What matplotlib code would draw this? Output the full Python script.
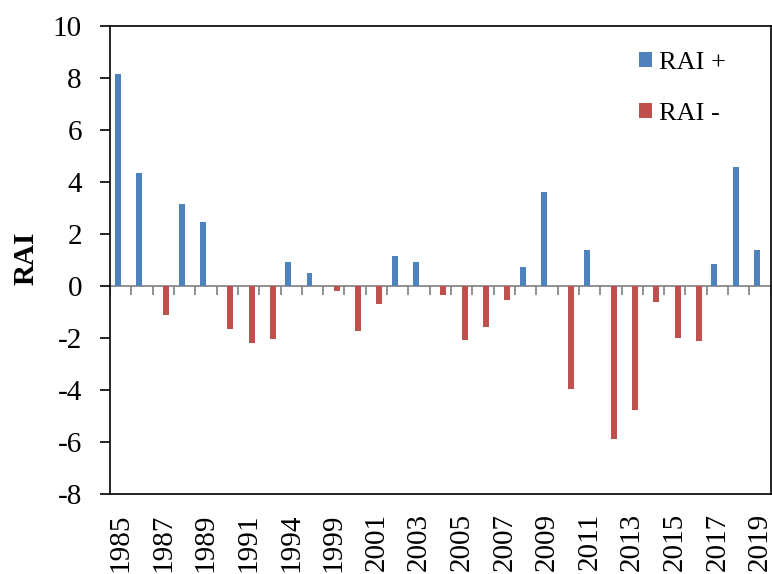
import matplotlib.pyplot as plt
import numpy as np

plt.rcParams['font.family'] = ['Liberation Serif', 'DejaVu Serif']
plt.rcParams['axes.unicode_minus'] = False

years = ['1985', '1986', '1987', '1988', '1989', '1990', '1991', '1992',
         '1994', '1995', '1999', '2000', '2001', '2002', '2003', '2004',
         '2005', '2006', '2007', '2008', '2009', '2010', '2011', '2012',
         '2013', '2014', '2015', '2016', '2017', '2018', '2019']
rai_pos = [8.15, 4.32, 0, 3.16, 2.45, 0, 0, 0, 0.93, 0.48, 0, 0, 0, 1.15,
           0.90, 0, 0, 0, 0, 0.72, 3.62, 0, 1.39, 0, 0, 0, 0, 0, 0.82, 4.55,
           1.37]
rai_neg = [0, 0, -1.14, 0, 0, -1.65, -2.22, -2.05, 0, 0, -0.20, -1.74,
           -0.69, 0, 0, -0.34, -2.10, -1.58, -0.56, 0, 0, -3.98, 0, -5.90,
           -4.79, -0.64, -2.01, -2.14, 0, 0, 0]

blue = '#4F81BD'
red = '#C0504D'
grey = '#898989'

fig = plt.figure(figsize=(7.72, 5.74), dpi=100)
ax = fig.add_axes([110 / 772, 1 - 493.7 / 574, 660.7 / 772, 468 / 574])

x = np.arange(len(years))
w = 0.28
ax.bar(x - w / 2, rai_pos, width=w, color=blue, linewidth=0, label='RAI +', zorder=3)
ax.bar(x + w / 2, rai_neg, width=w, color=red, linewidth=0, label='RAI -', zorder=3)

ax.set_xlim(-0.5, len(years) - 0.5)
ax.set_ylim(-8, 10)
ax.set_yticks(np.arange(-8, 11, 2))

# category axis sits on zero with tick marks between categories
ax.axhline(0, color=grey, lw=1.3, zorder=2)
ax.vlines(np.arange(len(years) + 1) - 0.5, -0.36, 0, color=grey, lw=1.3, zorder=2)

ax.set_xticks(x[::2])
ax.set_xticklabels(years[::2], rotation=90, fontsize=21)
ax.tick_params(axis='x', length=0, pad=14)
ax.tick_params(axis='y', direction='out', length=7.2, width=1.2, labelsize=21, pad=13)

for s in ax.spines.values():
    s.set_linewidth(1.2)
    s.set_color('black')

fig.text(26 / 772, 1 - 258 / 574, 'RAI', rotation=90, ha='center', va='center',
         fontsize=21, fontweight='bold')

ax.legend(loc='upper left', bbox_to_anchor=(639 / 772, 1 - 52 / 574),
          bbox_transform=fig.transFigure, frameon=False, fontsize=19,
          handlelength=0.5, handleheight=0.5, handletextpad=0.25,
          labelspacing=1.1, borderpad=0, borderaxespad=0)

fig.savefig('out.png', dpi=100)
